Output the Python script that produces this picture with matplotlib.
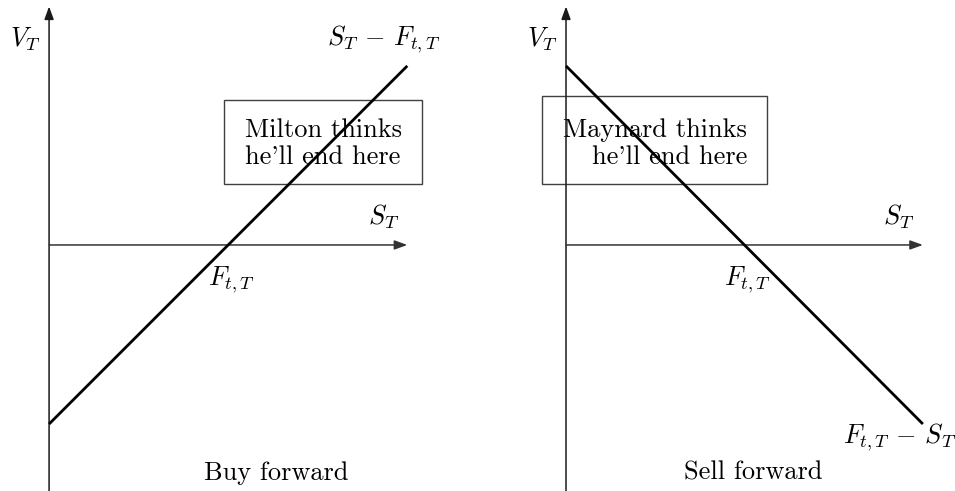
import matplotlib
matplotlib.use("Agg")
import matplotlib.pyplot as plt
from matplotlib.patches import Rectangle
import numpy as np

plt.rcParams['font.family'] = ['cmr10', 'DejaVu Serif']
plt.rcParams['mathtext.fontset'] = 'cm'
plt.rcParams['axes.formatter.use_mathtext'] = True

# payoff diagram data
forward_price = 5.0
spot = np.array([0.0, 10.0])
long_payoff = spot - forward_price
short_payoff = forward_price - spot

panels = [
    dict(payoff=long_payoff, title="Buy forward", end_label=r"$S_T\,-\,F_{t,T}$",
         note="Milton thinks\nhe'll end here"),
    dict(payoff=short_payoff, title="Sell forward", end_label=r"$F_{t,T}\,-\,S_T$",
         note="Maynard thinks\nhe'll end here"),
]

fig = plt.figure(figsize=(9.55, 4.91), dpi=100)
ax1 = fig.add_axes([0, 0, 0.5, 1])
ax2 = fig.add_axes([0.5, 0, 0.5, 1])

fs = 19
ylim = (-6.87, 6.84)
ax1.set_xlim(-1.37, 11.96)
ax2.set_xlim(-2.48, 10.90)

for ax, p in zip([ax1, ax2], panels):
    ax.set_ylim(*ylim)
    ax.axis('off')
    # axes with arrows
    ax.annotate('', xy=(0, 6.66), xytext=(0, ylim[0]),
                arrowprops=dict(arrowstyle='-|>,head_length=0.55,head_width=0.2',
                                color='#1a1a1a', lw=1.1, mutation_scale=14,
                                shrinkA=0, shrinkB=0))
    ax.annotate('', xy=(spot[-1], 0), xytext=(0, 0),
                arrowprops=dict(arrowstyle='-|>,head_length=0.55,head_width=0.2',
                                color='#333333', lw=1.1, mutation_scale=14,
                                shrinkA=0, shrinkB=0))
    ax.plot(spot, p['payoff'], color='black', lw=2, zorder=5, solid_capstyle='butt')
    ax.text(-0.66, 5.73, r"$V_T$", fontsize=fs, ha='center', va='center')
    ax.text(9.33, 0.78, r"$S_T$", fontsize=fs, ha='center', va='center')
    ax.text(5.1, -0.98, r"$F_{t,T}$", fontsize=fs, ha='center', va='center')
    ax.text(forward_price + (1.35 if ax is ax1 else 0.25), -6.37, p['title'],
            fontsize=fs, ha='center', va='center')

# left panel extras
ax1.text(9.34, 5.73, panels[0]['end_label'], fontsize=fs, ha='center', va='center')
ax1.add_patch(Rectangle((4.89, 1.70), 5.53, 2.35, fill=False, edgecolor='#404040',
                        lw=1, zorder=2))
ax1.text(7.65, 2.83, panels[0]['note'], fontsize=fs, ha='center', va='center',
         multialignment='center', linespacing=1.2, zorder=1)

# right panel extras
ax2.text(7.76, -5.38, panels[1]['end_label'], fontsize=fs, ha='left', va='center',
         clip_on=False)
ax2.add_patch(Rectangle((-0.67, 1.71), 6.30, 2.46, fill=False, edgecolor='#404040',
                        lw=1, zorder=2))
ax2.text(5.07, 2.83, panels[1]['note'], fontsize=fs, ha='right', va='center',
         multialignment='right', linespacing=1.2, zorder=1)

fig.savefig('out.png', dpi=100)
